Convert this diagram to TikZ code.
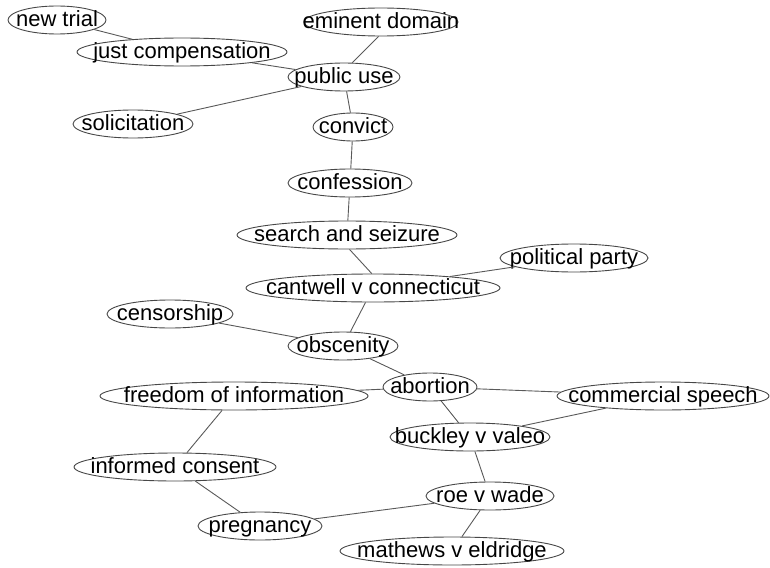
\documentclass[tikz,border=0pt]{standalone}
\usepackage{fontspec}
\setmainfont{Liberation Sans}
\usetikzlibrary{shapes.geometric}
\begin{document}
% zero-size label box so the ellipse keeps its given size
\newcommand\termlbl[1]{\makebox[0pt]{\raisebox{-0.6ex}[0pt][0pt]{#1}}}
\begin{tikzpicture}[x=1pt,y=-1pt,
  term/.style={ellipse,draw=black!72,line width=0.9pt,fill=white,inner sep=0pt,
    minimum height=28pt,font=\fontsize{22}{22}\selectfont},
  link/.style={draw=black!65,line width=0.9pt}]
\useasboundingbox (0,0) rectangle (770,567);
% terms
\node[term,minimum width=98pt]  (nt)  at (57,20)  {\termlbl{new trial}};
\node[term,minimum width=154pt] (ed)  at (381,22) {\termlbl{eminent domain}};
\node[term,minimum width=210pt] (jc)  at (182,52) {\termlbl{just compensation}};
\node[term,minimum width=112pt] (pu)  at (344,77) {\termlbl{public use}};
\node[term,minimum width=120pt] (sol) at (133,124) {\termlbl{solicitation}};
\node[term,minimum width=80pt]  (cv)  at (353,127) {\termlbl{convict}};
\node[term,minimum width=124pt] (cf)  at (350,183) {\termlbl{confession}};
\node[term,minimum width=220pt] (ss)  at (347,235) {\termlbl{search and seizure}};
\node[term,minimum width=148pt] (pp)  at (574,258) {\termlbl{political party}};
\node[term,minimum width=254pt] (cc)  at (373,288) {\termlbl{cantwell v connecticut}};
\node[term,minimum width=126pt] (cen) at (170,314) {\termlbl{censorship}};
\node[term,minimum width=110pt] (obs) at (343,346) {\termlbl{obscenity}};
\node[term,minimum width=94pt]  (ab)  at (430,387) {\termlbl{abortion}};
\node[term,minimum width=268pt] (foi) at (234,396) {\termlbl{freedom of information}};
\node[term,minimum width=212pt] (cs)  at (663,396) {\termlbl{commercial speech}};
\node[term,minimum width=160pt] (bv)  at (470,437) {\termlbl{buckley v valeo}};
\node[term,minimum width=202pt] (ic)  at (175,467) {\termlbl{informed consent}};
\node[term,minimum width=128pt] (rw)  at (490,496) {\termlbl{roe v wade}};
\node[term,minimum width=124pt] (pr)  at (260,526) {\termlbl{pregnancy}};
\node[term,minimum width=224pt] (me)  at (452,551) {\termlbl{mathews v eldridge}};
% links
\draw[link] (nt) -- (jc);
\draw[link] (jc) -- (pu);
\draw[link] (ed.260) -- (pu.60);
\draw[link] (sol) -- (pu);
\draw[link] (pu) -- (cv);
\draw[link] (cv) -- (cf);
\draw[link] (cf) -- (ss);
\draw[link] (ss.280) -- (cc.95);
\draw[link] (pp) -- (cc);
\draw[link] (cc) -- (obs);
\draw[link] (cen) -- (obs);
\draw[link] (obs) -- (ab);
\draw[link] (ab) -- (foi);
\draw[link] (ab) -- (cs);
\draw[link] (ab) -- (bv);
\draw[link] (cs) -- (bv);
\draw[link] (foi) -- (ic);
\draw[link] (ic) -- (pr);
\draw[link] (pr) -- (rw);
\draw[link] (bv) -- (rw);
\draw[link] (rw) -- (me);
\end{tikzpicture}
\end{document}
